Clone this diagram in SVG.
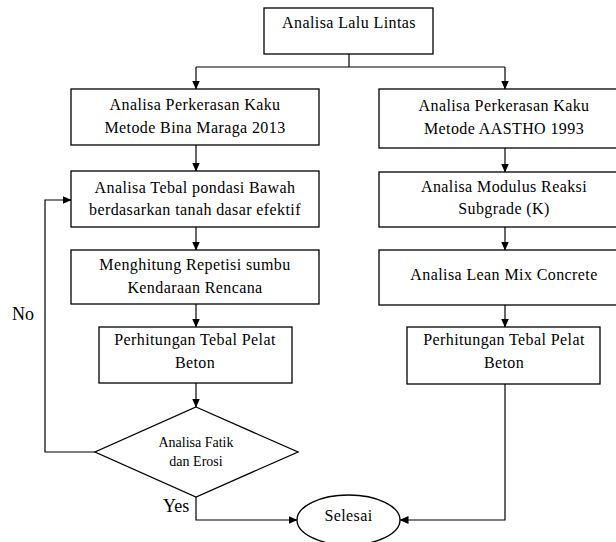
<svg xmlns="http://www.w3.org/2000/svg" width="616" height="542" viewBox="0 0 616 542">
<defs>
<marker id="ah" markerWidth="9" markerHeight="8" refX="8.5" refY="4" orient="auto" markerUnits="userSpaceOnUse">
<path d="M0,0 L9,4 L0,8 z" fill="#000"/>
</marker>
<style>
.box{fill:#fff;stroke:#000;stroke-width:1.3}
text{font-family:'Liberation Serif','DejaVu Serif',serif;fill:#000}
.t{font-size:16px;text-anchor:middle;letter-spacing:0.4px}
.s{font-size:14px;text-anchor:middle}
.lbl{font-size:18px}
.c{fill:none;stroke:#000;stroke-width:1.2}
.ca{fill:none;stroke:#000;stroke-width:1.2;marker-end:url(#ah)}
</style>
</defs>
<rect width="616" height="542" fill="#fff"/>
<g id="connectors">
<path class="c" d="M349,54 V67 M196,67 H505"/>
<path class="ca" d="M196,67 V89"/>
<path class="ca" d="M505,67 V89"/>
<path class="ca" d="M196,145 V171"/>
<path class="ca" d="M196,227 V250"/>
<path class="ca" d="M196,304 V327"/>
<path class="ca" d="M196,383 V407"/>
<path class="ca" d="M505,148 V172"/>
<path class="ca" d="M505,227 V250"/>
<path class="ca" d="M505,305 V327"/>
<path class="ca" d="M95,452 H45 V200 H71"/>
<path class="ca" d="M196,497 V520 H297"/>
<path class="ca" d="M505,384 V520 H400"/>
</g>
<g id="n-lalu-lintas">
<rect class="box" x="264" y="8" width="169" height="46"/>
<text class="t" x="349" y="28" font-family="Liberation Serif, serif">Analisa Lalu Lintas</text>
</g>
<g id="n-bina-marga">
<rect class="box" x="71" y="89" width="248" height="56"/>
<text class="t" x="195" y="110">Analisa Perkerasan Kaku</text>
<text class="t" x="195" y="133">Metode Bina Maraga 2013</text>
</g>
<g id="n-aastho">
<rect class="box" x="379" y="89" width="253" height="59"/>
<text class="t" x="504" y="111">Analisa Perkerasan Kaku</text>
<text class="t" x="504" y="134">Metode AASTHO 1993</text>
</g>
<g id="n-tebal-pondasi">
<rect class="box" x="71" y="171" width="248" height="56"/>
<text class="t" x="195" y="193">Analisa Tebal pondasi Bawah</text>
<text class="t" x="195" y="215">berdasarkan tanah dasar efektif</text>
</g>
<g id="n-modulus">
<rect class="box" x="379" y="172" width="253" height="55"/>
<text class="t" x="504" y="192">Analisa Modulus Reaksi</text>
<text class="t" x="504" y="214">Subgrade (K)</text>
</g>
<g id="n-repetisi">
<rect class="box" x="71" y="250" width="248" height="54"/>
<text class="t" x="195" y="270">Menghitung Repetisi sumbu</text>
<text class="t" x="195" y="293">Kendaraan Rencana</text>
</g>
<g id="n-lean-mix">
<rect class="box" x="379" y="250" width="253" height="55"/>
<text class="t" x="504" y="280">Analisa Lean Mix Concrete</text>
</g>
<g id="n-pelat-kiri">
<rect class="box" x="99" y="327" width="193" height="56"/>
<text class="t" x="195" y="345">Perhitungan Tebal Pelat</text>
<text class="t" x="195" y="368">Beton</text>
</g>
<g id="n-pelat-kanan">
<rect class="box" x="407" y="327" width="193" height="57"/>
<text class="t" x="504" y="345">Perhitungan Tebal Pelat</text>
<text class="t" x="504" y="368">Beton</text>
</g>
<g id="n-fatik">
<polygon class="box" points="196,407 298,452 196,497 95,452"/>
<text class="s" x="196" y="447">Analisa Fatik</text>
<text class="s" x="196" y="466">dan Erosi</text>
</g>
<g id="n-selesai">
<ellipse class="box" cx="348.5" cy="520" rx="51.5" ry="25"/>
<text class="t" x="348.5" y="521">Selesai</text>
</g>
<text class="lbl" x="12" y="320">No</text>
<text class="lbl" x="163" y="512">Yes</text>
</svg>
